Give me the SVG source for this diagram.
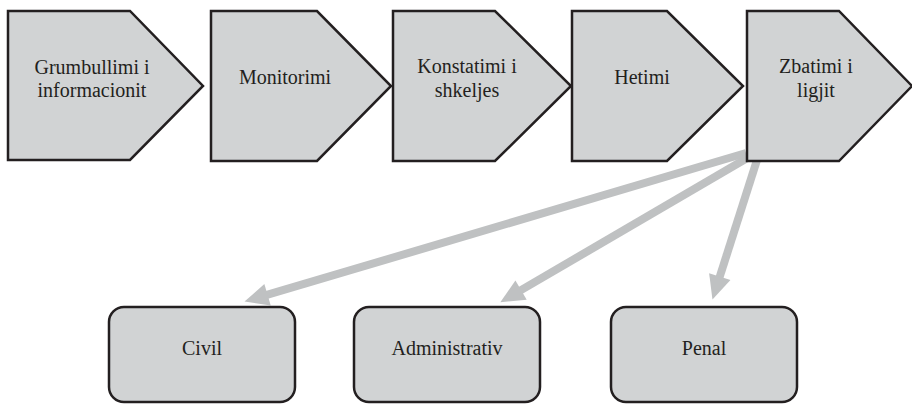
<svg xmlns="http://www.w3.org/2000/svg" width="912" height="404" viewBox="0 0 912 404">
<style>
.n{fill:#d1d3d4;stroke:#231f20;stroke-width:2.5;stroke-linejoin:miter}
.t{font-family:'Liberation Serif','DejaVu Serif',serif;font-size:20px;fill:#231f20;text-anchor:middle}
.c{stroke:#bfc1c2;stroke-width:8;fill:none}
</style>
<defs>
<marker id="ah" markerUnits="strokeWidth" markerWidth="3.2" markerHeight="2.8" refX="0.2" refY="1.4" orient="auto" overflow="visible">
<path d="M0,0 L3,1.4 L0,2.8 z" fill="#bfc1c2"/>
</marker>
</defs>
<rect width="912" height="404" fill="#fff"/>
<g id="connectors">
<line class="c" x1="746" y1="153" x2="266" y2="295.2" marker-end="url(#ah)"/>
<line class="c" x1="749" y1="157" x2="519.7" y2="290.9" marker-end="url(#ah)"/>
<line class="c" x1="757" y1="160" x2="719.3" y2="278.1" marker-end="url(#ah)"/>
</g>
<g id="n1" font-family="Liberation Serif, DejaVu Serif, serif"><path class="n" d="M8,11 H130 L203,86 L130,160 H8 Z"/><text class="t" x="92" y="74">Grumbullimi i</text><text class="t" x="92" y="97">informacionit</text></g>
<g id="n2" font-family="Liberation Serif, DejaVu Serif, serif"><path class="n" d="M211,11 H317 L391,86 L317,161 H211 Z"/><text class="t" x="285" y="84">Monitorimi</text></g>
<g id="n3" font-family="Liberation Serif, DejaVu Serif, serif"><path class="n" d="M393,11 H495 L571,86 L495,161 H393 Z"/><text class="t" x="467" y="73">Konstatimi i</text><text class="t" x="467" y="97">shkeljes</text></g>
<g id="n4" font-family="Liberation Serif, DejaVu Serif, serif"><path class="n" d="M572,11 H667 L743,86 L667,161 H572 Z"/><text class="t" x="642" y="84">Hetimi</text></g>
<g id="n5" font-family="Liberation Serif, DejaVu Serif, serif"><path class="n" d="M747,11 H839 L912,86 L839,161 H747 Z"/><text class="t" x="816" y="73">Zbatimi i</text><text class="t" x="816" y="97">ligjit</text></g>
<g id="civil" font-family="Liberation Serif, DejaVu Serif, serif"><rect class="n" x="109" y="307" width="186" height="95" rx="15"/><text class="t" x="202" y="355">Civil</text></g>
<g id="administrativ" font-family="Liberation Serif, DejaVu Serif, serif"><rect class="n" x="354" y="307" width="186" height="95" rx="15"/><text class="t" x="447" y="355">Administrativ</text></g>
<g id="penal" font-family="Liberation Serif, DejaVu Serif, serif"><rect class="n" x="611" y="307" width="186" height="95" rx="15"/><text class="t" x="704" y="355">Penal</text></g>
</svg>
